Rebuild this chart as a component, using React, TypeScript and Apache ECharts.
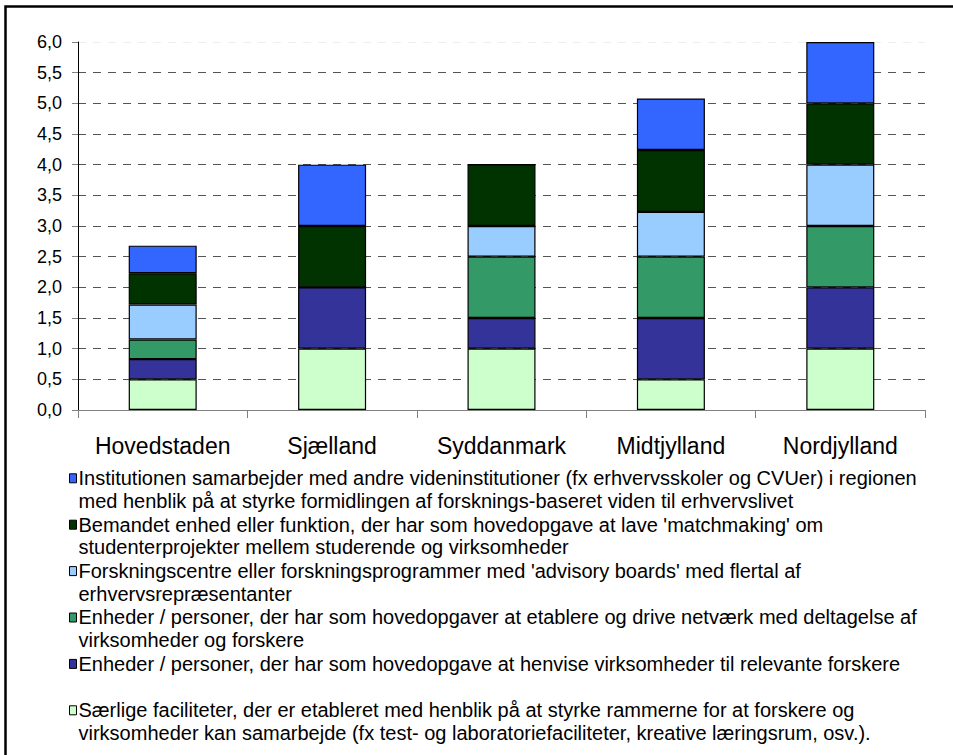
import React, { useEffect, useRef } from "react";
import * as echarts from "echarts";

const categories = ["Hovedstaden", "Sjælland", "Syddanmark", "Midtjylland", "Nordjylland"];

// series, from the bottom of each stack to the top
const seriesNames = [
  "Særlige faciliteter, der er etableret med henblik på at styrke rammerne for at forskere og virksomheder kan samarbejde (fx test- og laboratoriefaciliteter, kreative læringsrum, osv.).",
  "Enheder / personer, der har som hovedopgave at henvise virksomheder til relevante forskere",
  "Enheder / personer, der har som hovedopgaver at etablere og drive netværk med deltagelse af virksomheder og forskere",
  "Forskningscentre eller forskningsprogrammer med 'advisory boards' med flertal af erhvervsrepræsentanter",
  "Bemandet enhed eller funktion, der har som hovedopgave at lave 'matchmaking' om studenterprojekter mellem studerende og virksomheder",
  "Institutionen samarbejder med andre videninstitutioner (fx erhvervsskoler og CVUer) i regionen med henblik på at styrke formidlingen af forsknings-baseret viden til erhvervslivet",
];

// legend text as it is wrapped in the picture (same order as seriesNames)
const legendLines = [
  ["Særlige faciliteter, der er etableret med henblik på at styrke rammerne for at forskere og", "virksomheder kan samarbejde (fx test- og laboratoriefaciliteter, kreative læringsrum, osv.)."],
  ["Enheder / personer, der har som hovedopgave at henvise virksomheder til relevante forskere"],
  ["Enheder / personer, der har som hovedopgaver at etablere og drive netværk med deltagelse af", "virksomheder og forskere"],
  ["Forskningscentre eller forskningsprogrammer med 'advisory boards' med flertal af", "erhvervsrepræsentanter"],
  ["Bemandet enhed eller funktion, der har som hovedopgave at lave 'matchmaking' om", "studenterprojekter mellem studerende og virksomheder"],
  ["Institutionen samarbejder med andre videninstitutioner (fx erhvervsskoler og CVUer) i regionen", "med henblik på at styrke formidlingen af forsknings-baseret viden til erhvervslivet"],
];

const seriesColors = ["#CCFFCC", "#333399", "#339966", "#99CCFF", "#003300", "#3366FF"];

const saerligeFaciliteter = [0.5, 1, 1, 0.5, 1];
const henviseVirksomheder = [0.33, 1, 0.5, 1, 1];
const netvaerk = [0.32, 0, 1, 1, 1];
const advisoryBoards = [0.57, 0, 0.5, 0.73, 1];
const matchmaking = [0.51, 1, 1, 1.01, 1];
const videninstitutioner = [0.45, 1, 0, 0.84, 1];

const seriesValues = [saerligeFaciliteter, henviseVirksomheder, netvaerk, advisoryBoards, matchmaking, videninstitutioner];

const yTicks = [0, 0.5, 1, 1.5, 2, 2.5, 3, 3.5, 4, 4.5, 5, 5.5, 6];

const FONT = "'Liberation Sans', Arial, Helvetica, sans-serif";

export default function App() {
  const ref = useRef<HTMLDivElement>(null);

  useEffect(() => {
    if (!ref.current) return;
    const chart = echarts.init(ref.current, undefined, { renderer: "svg" });

    // legend drawn top item first (reverse of stacking order)
    const legendOrder = [5, 4, 3, 2, 1, 0];
    const legendElements: any[] = [];
    const firstMiddle = 478.3;
    const pitch = 46.4;
    const lineH = 22.6;
    legendOrder.forEach((si, k) => {
      const mid = firstMiddle + k * pitch;
      legendElements.push({
        type: "rect",
        shape: { x: 69.5, y: mid - 4.5, width: 7, height: 9 },
        style: { fill: seriesColors[si], stroke: "#000", lineWidth: 1 },
      });
      legendElements.push({
        type: "text",
        x: 78.5,
        y: mid - lineH / 2,
        style: {
          text: legendLines[si].join("\n"),
          fill: "#000",
          font: `20px ${FONT}`,
          fontSize: 20,
          fontFamily: FONT,
          lineHeight: lineH,
          verticalAlign: "top",
          align: "left",
        },
      });
    });

    const splitColors = yTicks.map((t) => (t === 6 ? "#eeeeee" : "#555555"));

    chart.setOption({
      animation: false,
      backgroundColor: "#ffffff",
      textStyle: { fontFamily: FONT },
      grid: { left: 78, right: 28, top: 42, bottom: 345, containLabel: false },
      xAxis: {
        type: "category",
        data: categories,
        boundaryGap: true,
        axisLine: { show: true, lineStyle: { color: "#808080", width: 1 } },
        axisTick: { show: true, alignWithLabel: false, interval: 0, length: 8, lineStyle: { color: "#808080" } },
        axisLabel: { color: "#000", fontSize: 23, fontFamily: FONT, margin: 24, interval: 0, hideOverlap: false },
        splitLine: { show: false },
      },
      yAxis: {
        type: "value",
        min: 0,
        max: 6,
        interval: 0.5,
        axisLine: { show: true, lineStyle: { color: "#000", width: 1 } },
        axisTick: { show: true, inside: false, length: 6, lineStyle: { color: "#808080" } },
        axisLabel: {
          color: "#000",
          fontSize: 18,
          fontFamily: FONT,
          margin: 16,
          formatter: (v: number) => v.toFixed(1).replace(".", ","),
        },
        splitLine: { show: true, lineStyle: { color: splitColors, width: 1, type: [8, 7] } },
      },
      series: seriesNames.map((name, i) => ({
        name,
        type: "bar",
        stack: "total",
        barWidth: 68,
        data: seriesValues[i],
        itemStyle: { color: seriesColors[i], borderColor: "#000", borderWidth: 1.2 },
      })),
      graphic: [
        {
          type: "polyline",
          shape: { points: [[5.5, 760], [5.5, 6.5], [960, 6.5]] },
          style: { stroke: "#000", lineWidth: 2.5, fill: "none" },
          silent: true,
        },
        ...legendElements,
      ],
    });

    return () => chart.dispose();
  }, []);

  return (
    <div
      ref={ref}
      style={{ position: "fixed", left: 0, top: 0, width: 953, height: 755, background: "#fff" }}
    />
  );
}
